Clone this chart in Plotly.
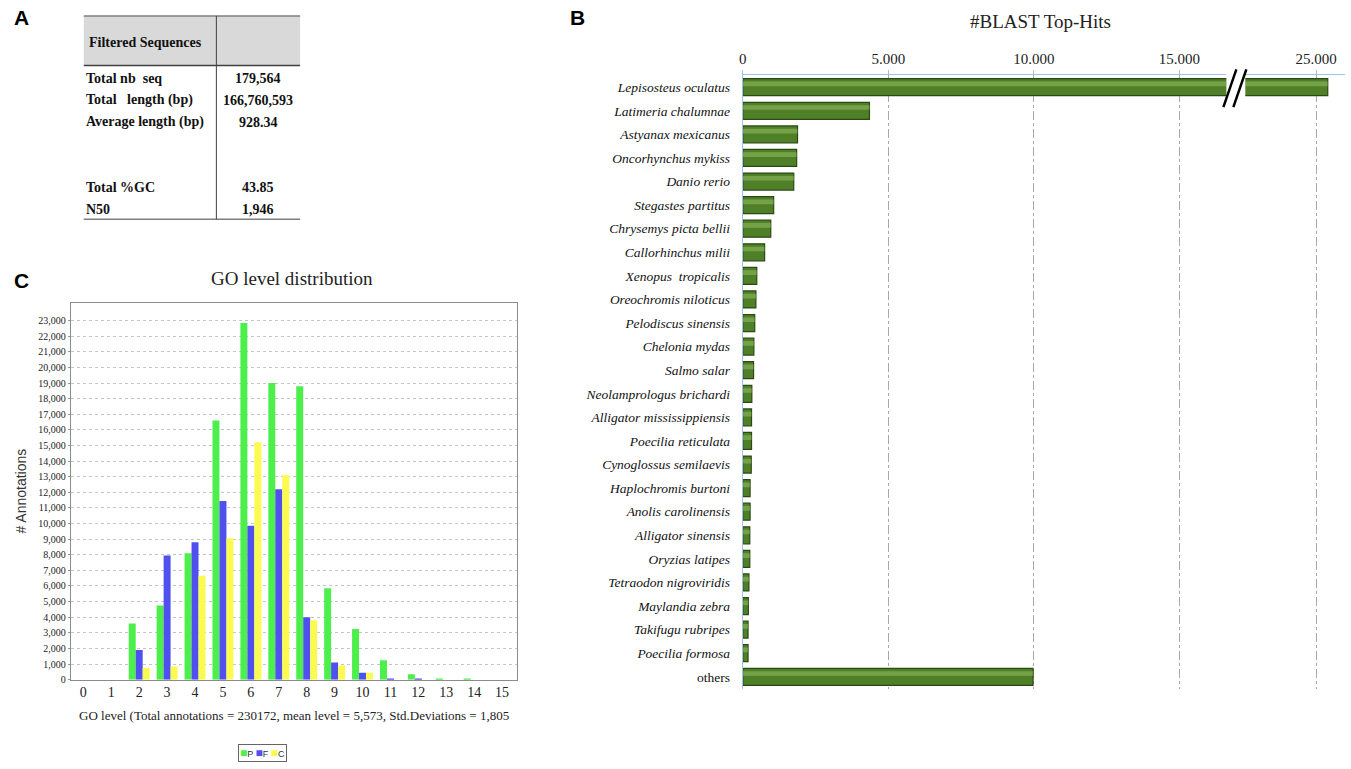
import plotly.graph_objects as go

W, H = 1351, 769


def fx(x):
    return x / W


def fy(y):
    return 1 - y / H


SERIF = "Liberation Serif"
SANS = "Liberation Sans"

# ---------------- Panel A : table ----------------
table_header = "Filtered Sequences"
table_labels = ["Total nb  seq", "Total   length (bp)", "Average length (bp)", "", "", "Total %GC", "N50"]
table_values = ["179,564", "166,760,593", "928.34", "", "", "43.85", "1,946"]

# ---------------- Panel B : BLAST top hits ----------------
species = [
    "Lepisosteus oculatus", "Latimeria chalumnae", "Astyanax mexicanus",
    "Oncorhynchus mykiss", "Danio rerio", "Stegastes partitus",
    "Chrysemys picta bellii", "Callorhinchus milii", "Xenopus  tropicalis",
    "Oreochromis niloticus", "Pelodiscus sinensis", "Chelonia mydas",
    "Salmo salar", "Neolamprologus brichardi", "Alligator mississippiensis",
    "Poecilia reticulata", "Cynoglossus semilaevis", "Haplochromis burtoni",
    "Anolis carolinensis", "Alligator sinensis", "Oryzias latipes",
    "Tetraodon nigroviridis", "Maylandia zebra", "Takifugu rubripes",
    "Poecilia formosa", "others",
]
hits = [25400, 4350, 1880, 1850, 1750, 1060, 960, 750, 480, 450, 410, 380,
        370, 310, 300, 300, 290, 250, 250, 240, 240, 210, 190, 180, 180, 9970]
b_ticks_left = [0, 5000, 10000, 15000]
b_ticktext_left = ["0", "5.000", "10.000", "15.000"]
b_ticks_right = [25000]
b_ticktext_right = ["25.000"]

# ---------------- Panel C : GO level distribution ----------------
go_levels = list(range(16))
go_P = [0, 0, 3600, 4750, 8100, 16600, 22850, 19000, 18800, 5850, 3250, 1250, 350, 80, 20, 0]
go_F = [0, 0, 1900, 7950, 8800, 11450, 9850, 12200, 4000, 1100, 450, 60, 50, 0, 0, 0]
go_C = [0, 0, 750, 850, 6650, 9050, 15200, 13100, 3800, 900, 450, 0, 0, 0, 0, 0]
go_series = [("P", go_P, "#4cef4c"), ("F", go_F, "#5050ef"), ("C", go_C, "#fbfb4f")]
c_yticks = list(range(0, 23001, 1000))

fig = go.Figure()

# Panel C bars
for name, vals, col in go_series:
    fig.add_trace(go.Bar(x=go_levels, y=vals, name=name, marker=dict(color=col, line=dict(width=0)),
                         xaxis="x", yaxis="y", showlegend=False))

# Panel B bars (broken axis: two x axes)
bar_ticktext = ["<i>" + s + "</i>" if s != "others" else s for s in species]
for xa in ["x2", "x3"]:
    fig.add_trace(go.Bar(y=species, x=hits, orientation="h", width=0.72, offset=-0.36,
                         marker=dict(color="#4f8027", line=dict(color="#2b4a12", width=1.2)),
                         xaxis=xa, yaxis="y2", showlegend=False))
    fig.add_trace(go.Bar(y=species, x=hits, orientation="h", width=0.2, offset=-0.24,
                         marker=dict(color="rgba(165,205,115,0.45)", line=dict(width=0)),
                         xaxis=xa, yaxis="y2", showlegend=False, hoverinfo="skip"))

shapes = []
annotations = []

# Panel A table drawing
tx0, tx1, tdiv = 80, 297, 213
shapes.append(dict(type="rect", xref="paper", yref="paper", x0=fx(tx0), x1=fx(tx1), y0=fy(66), y1=fy(16),
                   fillcolor="#d9d9d9", line=dict(width=0), layer="below"))
for yy, col, w in [(16, "#7f7f7f", 1.5), (66, "#404040", 1.5), (221, "#7f7f7f", 1.5)]:
    shapes.append(dict(type="line", xref="paper", yref="paper", x0=fx(tx0), x1=fx(tx1), y0=fy(yy), y1=fy(yy),
                       line=dict(color=col, width=w)))
shapes.append(dict(type="line", xref="paper", yref="paper", x0=fx(tdiv), x1=fx(tdiv), y0=fy(16), y1=fy(221),
                   line=dict(color="#404040", width=1)))
annotations.append(dict(text="<b>" + table_header + "</b>", xref="paper", yref="paper", x=fx(83), y=fy(43),
                        xanchor="left", yanchor="middle", showarrow=False,
                        font=dict(family=SERIF, size=14, color="#111")))
for i, (lab, val) in enumerate(zip(table_labels, table_values)):
    yy = 79 + 22 * i
    if lab:
        annotations.append(dict(text="<b>" + lab + "</b>", xref="paper", yref="paper", x=fx(80), y=fy(yy),
                                xanchor="left", yanchor="middle", showarrow=False,
                                font=dict(family=SERIF, size=14, color="#111")))
    if val:
        annotations.append(dict(text="<b>" + val + "</b>", xref="paper", yref="paper", x=fx(255), y=fy(yy),
                                xanchor="center", yanchor="middle", showarrow=False,
                                font=dict(family=SERIF, size=14, color="#111")))

# Panel letters
for letter, x, y in [("A", 18, 18), ("B", 575, 18), ("C", 18, 283)]:
    annotations.append(dict(text="<b>" + letter + "</b>", xref="paper", yref="paper", x=fx(x), y=fy(y),
                            xanchor="center", yanchor="middle", showarrow=False,
                            font=dict(family=SANS, size=21, color="#000")))

# Titles
annotations.append(dict(text="#BLAST Top-Hits", xref="paper", yref="paper", x=fx(1040), y=fy(22),
                        xanchor="center", yanchor="middle", showarrow=False,
                        font=dict(family=SERIF, size=19, color="#222")))
annotations.append(dict(text="GO level distribution", xref="paper", yref="paper", x=fx(289), y=fy(281),
                        xanchor="center", yanchor="middle", showarrow=False,
                        font=dict(family=SERIF, size=19, color="#222")))

# Compact legend for panel C
legend_text = " ".join(
    "<span style='color:%s;font-size:12px'>■</span>%s" % (col, name) for name, vals, col in go_series
)
annotations.append(dict(text=legend_text, xref="paper", yref="paper", x=fx(259), y=fy(759),
                        xanchor="center", yanchor="middle", showarrow=False,
                        font=dict(family=SANS, size=9, color="#333"),
                        bordercolor="#666", borderwidth=1, borderpad=1, bgcolor="white"))

# Axis break marks on panel B
for dx in [0, 10]:
    shapes.append(dict(type="line", xref="paper", yref="paper",
                       x0=fx(1223 + dx), y0=fy(108), x1=fx(1236 + dx), y1=fy(70),
                       line=dict(color="#000", width=2.5)))

fig.update_layout(
    width=W, height=H,
    margin=dict(l=0, r=0, t=0, b=0),
    paper_bgcolor="white", plot_bgcolor="white",
    barmode="group", bargap=0.25, bargroupgap=0,
    font=dict(family=SERIF, color="#222"),
    shapes=shapes, annotations=annotations,
    showlegend=False,
    xaxis=dict(domain=[fx(67), fx(515)], range=[-0.45, 15.55], anchor="y",
               tickvals=go_levels, ticks="", showgrid=False, zeroline=False,
               showline=True, mirror=True, linecolor="#8c8c8c", linewidth=1,
               tickfont=dict(family=SERIF, size=14, color="#222"),
               title=dict(text="GO level (Total annotations = 230172, mean level = 5,573, Std.Deviations = 1,805",
                          font=dict(family=SERIF, size=13, color="#222"), standoff=11)),
    yaxis=dict(domain=[fy(685), fy(305)], range=[0, 24150], anchor="x",
               tickvals=c_yticks, tickformat=",", showgrid=True, gridcolor="#c4c4c4", griddash="dot",
               zeroline=False, showline=True, mirror=True, linecolor="#8c8c8c", linewidth=1,
               ticks="outside", ticklen=2, tickcolor="#999",
               tickfont=dict(family=SERIF, size=10, color="#222"),
               title=dict(text="# Annotations", font=dict(family=SANS, size=14, color="#333"), standoff=8)),
    xaxis2=dict(domain=[fx(741), fx(1226)], range=[0, 16610], anchor="y2", side="top",
                tickvals=b_ticks_left, ticktext=b_ticktext_left,
                showgrid=True, gridcolor="#a8a8a8", griddash="dashdot", gridwidth=1,
                zeroline=False, showline=True, linecolor="#9dc3e6", linewidth=1.2,
                ticks="outside", ticklen=4, tickcolor="#9dc3e6",
                tickfont=dict(family=SERIF, size=15, color="#222")),
    xaxis3=dict(domain=[fx(1245), fx(1345)], range=[22568, 25993], anchor="y2", side="top",
                tickvals=b_ticks_right, ticktext=b_ticktext_right,
                showgrid=True, gridcolor="#a8a8a8", griddash="dashdot", gridwidth=1,
                zeroline=False, showline=True, linecolor="#9dc3e6", linewidth=1.2,
                ticks="outside", ticklen=4, tickcolor="#9dc3e6",
                tickfont=dict(family=SERIF, size=15, color="#222")),
    yaxis2=dict(domain=[fy(694), fy(76)], anchor="x2", type="category",
                categoryorder="array", categoryarray=species, autorange="reversed",
                tickvals=species, ticktext=bar_ticktext, ticks="",
                showgrid=False, zeroline=False, showline=True, linecolor="#9dc3e6", linewidth=1.2,
                ticklabelstandoff=9,
                tickfont=dict(family=SERIF, size=13.5, color="#111")),
)

fig.write_html("out.html", config={"displayModeBar": False},
               post_script="document.body.style.margin='0';")
